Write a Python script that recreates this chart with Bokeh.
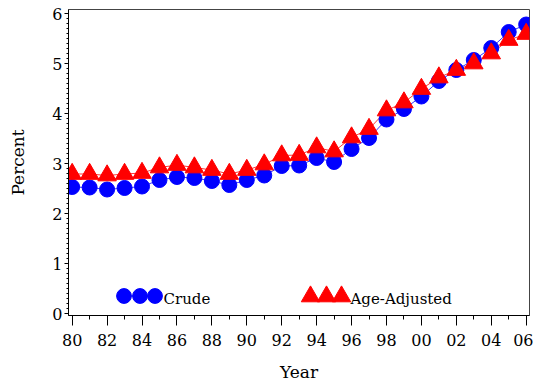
from bokeh.plotting import figure
from bokeh.models import FixedTicker, Range1d, Legend, LegendItem, Label
from bokeh.embed import file_html
from bokeh.resources import INLINE

years = list(range(1980, 2007))
crude = [2.53, 2.52, 2.48, 2.51, 2.54, 2.67, 2.73, 2.71, 2.65, 2.57, 2.67, 2.76,
         2.95, 2.96, 3.11, 3.03, 3.29, 3.51, 3.88, 4.09, 4.34, 4.65, 4.87, 5.07,
         5.31, 5.63, 5.78]
adjusted = [2.79, 2.79, 2.76, 2.79, 2.81, 2.92, 2.97, 2.92, 2.87, 2.79, 2.87, 2.98,
            3.16, 3.17, 3.32, 3.24, 3.52, 3.69, 4.06, 4.22, 4.49, 4.72, 4.87, 5.00,
            5.20, 5.47, 5.59]
major_years = list(range(1980, 2007, 2))
minor_years = list(range(1981, 2006, 2))
tick_labels = ["80", "82", "84", "86", "88", "90", "92", "94", "96", "98",
               "00", "02", "04", "06"]
y_ticks = [0, 1, 2, 3, 4, 5, 6]
series_names = ["Crude", "Age-Adjusted"]

FONT = "DejaVu Serif"

p = figure(width=533, height=385, output_backend="svg", toolbar_location=None,
           x_range=Range1d(1979.79, 2006.19), y_range=Range1d(-0.04, 6.08),
           min_border_left=68, min_border_right=4, min_border_top=9,
           min_border_bottom=70)

p.xgrid.visible = False
p.ygrid.visible = False
p.outline_line_color = "#444444"
p.outline_line_width = 1
p.background_fill_color = "white"
p.border_fill_color = "white"

# lines + markers
cl = p.line(years, crude, line_color="blue", line_width=1, line_alpha=0.8)
al = p.line(years, adjusted, line_color="red", line_width=1, line_alpha=0.8)
cs = p.scatter(years, crude, marker="circle", size=15, fill_color="blue",
               line_color="blue")
ts = p.scatter(years, adjusted, marker="triangle", size=18.5, fill_color="red",
               line_color="red")

# axes
xa = p.xaxis[0]
xa.ticker = FixedTicker(ticks=major_years, minor_ticks=minor_years)
xa.major_label_overrides = {y: l for y, l in zip(major_years, tick_labels)}
xa.axis_label = "Year"
xa.major_tick_out = 10
xa.major_tick_in = 0
xa.minor_tick_out = 4
xa.minor_tick_in = 0
xa.major_label_standoff = 8
xa.axis_label_standoff = 13

ya = p.yaxis[0]
ya.ticker = FixedTicker(ticks=y_ticks,
                        minor_ticks=[i / 10 for i in range(0, 61)])
ya.axis_label = "Percent"
ya.major_tick_out = 4
ya.major_tick_in = 0
ya.minor_tick_out = 2
ya.minor_tick_in = 0
ya.major_label_standoff = 2
ya.axis_label_standoff = 21

for ax in (xa, ya):
    ax.axis_line_color = "black"
    ax.major_tick_line_color = "black"
    ax.minor_tick_line_color = "black"
    ax.major_label_text_font = FONT
    ax.major_label_text_font_size = "16px"
    ax.major_label_text_color = "black"
    ax.axis_label_text_font = FONT
    ax.axis_label_text_font_size = "17px"
    ax.axis_label_text_font_style = "normal"
    ax.axis_label_text_color = "black"


# legend samples: three markers per series, each a one-item legend
def sample(renderers, x0, y0, g):
    return Legend(items=[LegendItem(label="", renderers=renderers)],
                  location=(x0, y0), glyph_width=g, glyph_height=g,
                  label_width=0, label_height=g, label_standoff=0,
                  spacing=0, padding=0, margin=0,
                  background_fill_alpha=0, border_line_alpha=0,
                  label_text_font=FONT, label_text_font_size="15px")


for x0, rs in ((36.5, [cs]), (52.5, [cl, cs]), (67.5, [cs])):
    p.add_layout(sample(rs, x0, 1.5, 37), "center")
for x0 in (219, 235, 250):
    p.add_layout(sample([ts], x0, -3.5, 46), "center")

for name, lx in zip(series_names, (1985.23, 1995.94)):
    p.add_layout(Label(x=lx, y=0.30, text=name, text_baseline="middle",
                       text_align="left", text_font=FONT,
                       text_font_size="15px", text_color="black"))

open("out.html", "w").write(file_html(p, INLINE))
